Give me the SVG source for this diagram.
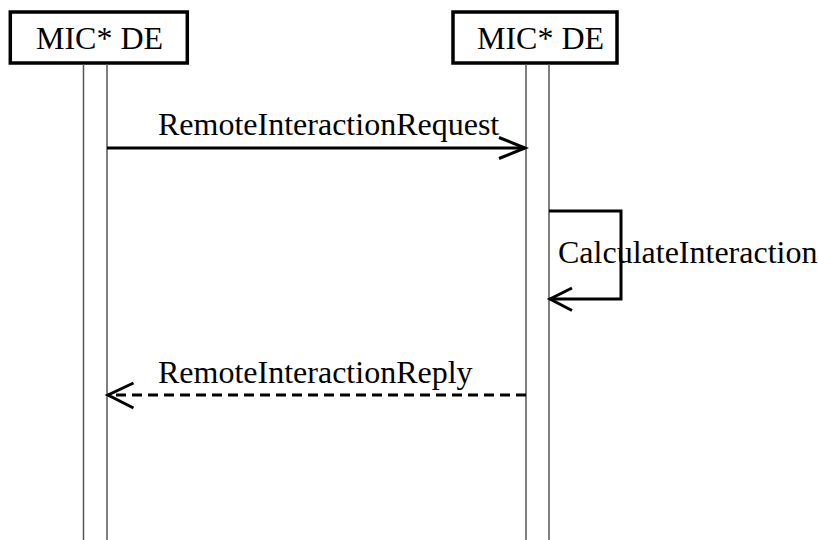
<svg xmlns="http://www.w3.org/2000/svg" width="818" height="540" viewBox="0 0 818 540">
<style>
.box{fill:#fff;stroke:#000;stroke-width:3.5}
.life{stroke:#555;stroke-width:1.5;fill:none}
.lbl{font-family:"Liberation Serif","Times New Roman",serif;font-size:32px;fill:#000}
.msg{stroke:#000;stroke-width:3;fill:none}
.dash{stroke-dasharray:10,6}
.head{stroke:#000;stroke-width:3;fill:none;stroke-linejoin:miter}
</style>
<rect width="818" height="540" fill="#fff"/>
<g id="node-left">
<rect class="box" x="10.3" y="12" width="177" height="51"/>
<text class="lbl" x="36" y="49">MIC* DE</text>
<line class="life" x1="83.5" y1="64" x2="83.5" y2="540"/>
<line class="life" x1="107" y1="64" x2="107" y2="540"/>
</g>
<g id="node-right">
<rect class="box" x="453" y="12" width="164" height="51"/>
<text class="lbl" x="477" y="49">MIC* DE</text>
<line class="life" x1="526" y1="64" x2="526" y2="540"/>
<line class="life" x1="549" y1="64" x2="549" y2="540"/>
</g>
<g id="connectors">
<line class="msg" x1="107" y1="148" x2="525" y2="148"/>
<polyline class="head" points="499,137.5 525,148 499,158.5"/>
<text class="lbl" x="158" y="135">RemoteInteractionRequest</text>
<polyline class="msg" points="549,211 621,211 621,299 550,299"/>
<polyline class="head" points="572,288 550,299 572,310.5"/>
<text class="lbl" x="558" y="263">CalculateInteraction</text>
<line class="msg dash" x1="526" y1="395" x2="108" y2="395"/>
<polyline class="head" points="133.5,383 108,395 133.5,408"/>
<text class="lbl" x="158" y="383">RemoteInteractionReply</text>
</g>
</svg>
